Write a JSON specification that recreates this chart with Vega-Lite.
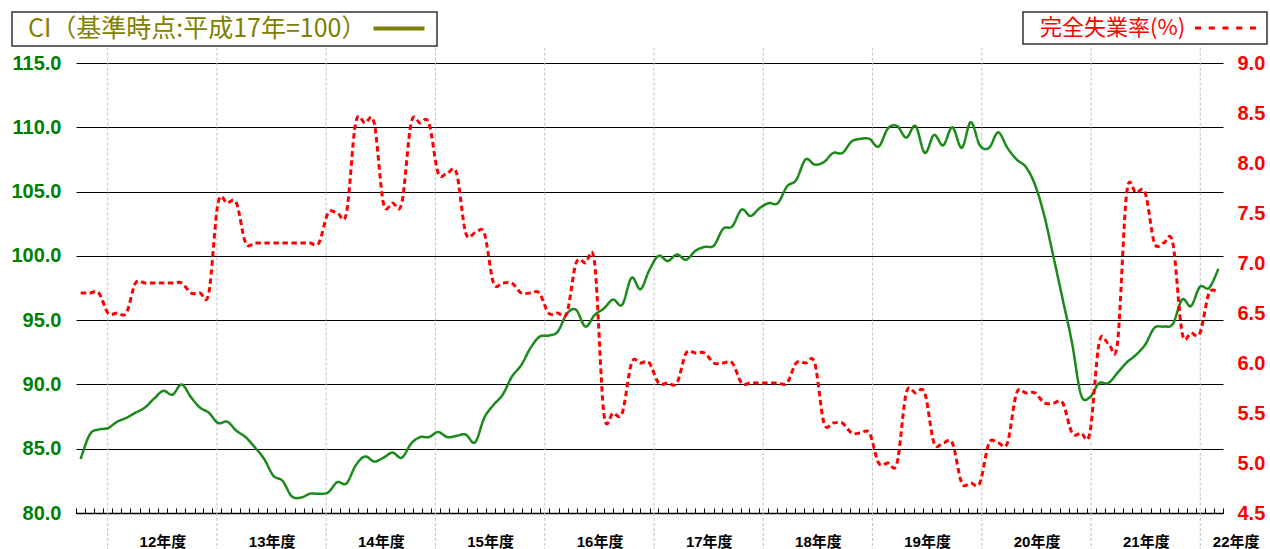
{
  "$schema": "https://vega.github.io/schema/vega-lite/v6.json",
  "width": 1147,
  "height": 450,
  "autosize": {"type": "none"},
  "padding": {"left": 76, "top": 63, "right": 47, "bottom": 36},
  "background": "white",
  "config": {"view": {"stroke": null}, "font": "Liberation Sans"},
  "data": {
    "values": [
      {"month": "2000-01", "ci": 84.2, "u": 6.7},
      {"month": "2000-02", "ci": 86.1, "u": 6.7},
      {"month": "2000-03", "ci": 86.5, "u": 6.7},
      {"month": "2000-04", "ci": 86.6, "u": 6.5},
      {"month": "2000-05", "ci": 87.1, "u": 6.5},
      {"month": "2000-06", "ci": 87.4, "u": 6.5},
      {"month": "2000-07", "ci": 87.8, "u": 6.8},
      {"month": "2000-08", "ci": 88.2, "u": 6.8},
      {"month": "2000-09", "ci": 88.9, "u": 6.8},
      {"month": "2000-10", "ci": 89.5, "u": 6.8},
      {"month": "2000-11", "ci": 89.2, "u": 6.8},
      {"month": "2000-12", "ci": 90.0, "u": 6.8},
      {"month": "2001-01", "ci": 89.0, "u": 6.7},
      {"month": "2001-02", "ci": 88.2, "u": 6.7},
      {"month": "2001-03", "ci": 87.8, "u": 6.7},
      {"month": "2001-04", "ci": 87.0, "u": 7.6},
      {"month": "2001-05", "ci": 87.1, "u": 7.6},
      {"month": "2001-06", "ci": 86.4, "u": 7.6},
      {"month": "2001-07", "ci": 85.9, "u": 7.2},
      {"month": "2001-08", "ci": 85.1, "u": 7.2},
      {"month": "2001-09", "ci": 84.2, "u": 7.2},
      {"month": "2001-10", "ci": 82.9, "u": 7.2},
      {"month": "2001-11", "ci": 82.5, "u": 7.2},
      {"month": "2001-12", "ci": 81.3, "u": 7.2},
      {"month": "2002-01", "ci": 81.2, "u": 7.2},
      {"month": "2002-02", "ci": 81.5, "u": 7.2},
      {"month": "2002-03", "ci": 81.5, "u": 7.2},
      {"month": "2002-04", "ci": 81.6, "u": 7.5},
      {"month": "2002-05", "ci": 82.4, "u": 7.5},
      {"month": "2002-06", "ci": 82.3, "u": 7.5},
      {"month": "2002-07", "ci": 83.7, "u": 8.4},
      {"month": "2002-08", "ci": 84.4, "u": 8.4},
      {"month": "2002-09", "ci": 84.0, "u": 8.4},
      {"month": "2002-10", "ci": 84.3, "u": 7.6},
      {"month": "2002-11", "ci": 84.7, "u": 7.6},
      {"month": "2002-12", "ci": 84.3, "u": 7.6},
      {"month": "2003-01", "ci": 85.4, "u": 8.4},
      {"month": "2003-02", "ci": 85.9, "u": 8.4},
      {"month": "2003-03", "ci": 85.9, "u": 8.4},
      {"month": "2003-04", "ci": 86.3, "u": 7.9},
      {"month": "2003-05", "ci": 85.9, "u": 7.9},
      {"month": "2003-06", "ci": 86.0, "u": 7.9},
      {"month": "2003-07", "ci": 86.1, "u": 7.3},
      {"month": "2003-08", "ci": 85.5, "u": 7.3},
      {"month": "2003-09", "ci": 87.4, "u": 7.3},
      {"month": "2003-10", "ci": 88.4, "u": 6.8},
      {"month": "2003-11", "ci": 89.2, "u": 6.8},
      {"month": "2003-12", "ci": 90.6, "u": 6.8},
      {"month": "2004-01", "ci": 91.5, "u": 6.7},
      {"month": "2004-02", "ci": 92.8, "u": 6.7},
      {"month": "2004-03", "ci": 93.7, "u": 6.7},
      {"month": "2004-04", "ci": 93.8, "u": 6.5},
      {"month": "2004-05", "ci": 94.1, "u": 6.5},
      {"month": "2004-06", "ci": 95.5, "u": 6.5},
      {"month": "2004-07", "ci": 95.8, "u": 7.0},
      {"month": "2004-08", "ci": 94.5, "u": 7.0},
      {"month": "2004-09", "ci": 95.4, "u": 7.0},
      {"month": "2004-10", "ci": 95.9, "u": 5.5},
      {"month": "2004-11", "ci": 96.6, "u": 5.5},
      {"month": "2004-12", "ci": 96.2, "u": 5.5},
      {"month": "2005-01", "ci": 98.3, "u": 6.0},
      {"month": "2005-02", "ci": 97.4, "u": 6.0},
      {"month": "2005-03", "ci": 98.9, "u": 6.0},
      {"month": "2005-04", "ci": 100.0, "u": 5.8},
      {"month": "2005-05", "ci": 99.6, "u": 5.8},
      {"month": "2005-06", "ci": 100.1, "u": 5.8},
      {"month": "2005-07", "ci": 99.7, "u": 6.1},
      {"month": "2005-08", "ci": 100.4, "u": 6.1},
      {"month": "2005-09", "ci": 100.7, "u": 6.1},
      {"month": "2005-10", "ci": 100.8, "u": 6.0},
      {"month": "2005-11", "ci": 102.1, "u": 6.0},
      {"month": "2005-12", "ci": 102.3, "u": 6.0},
      {"month": "2006-01", "ci": 103.6, "u": 5.8},
      {"month": "2006-02", "ci": 103.1, "u": 5.8},
      {"month": "2006-03", "ci": 103.7, "u": 5.8},
      {"month": "2006-04", "ci": 104.1, "u": 5.8},
      {"month": "2006-05", "ci": 104.1, "u": 5.8},
      {"month": "2006-06", "ci": 105.4, "u": 5.8},
      {"month": "2006-07", "ci": 105.9, "u": 6.0},
      {"month": "2006-08", "ci": 107.5, "u": 6.0},
      {"month": "2006-09", "ci": 107.1, "u": 6.0},
      {"month": "2006-10", "ci": 107.3, "u": 5.4},
      {"month": "2006-11", "ci": 108.0, "u": 5.4},
      {"month": "2006-12", "ci": 108.0, "u": 5.4},
      {"month": "2007-01", "ci": 108.9, "u": 5.3},
      {"month": "2007-02", "ci": 109.1, "u": 5.3},
      {"month": "2007-03", "ci": 109.1, "u": 5.3},
      {"month": "2007-04", "ci": 108.5, "u": 5.0},
      {"month": "2007-05", "ci": 109.9, "u": 5.0},
      {"month": "2007-06", "ci": 110.1, "u": 5.0},
      {"month": "2007-07", "ci": 109.2, "u": 5.7},
      {"month": "2007-08", "ci": 110.1, "u": 5.7},
      {"month": "2007-09", "ci": 108.0, "u": 5.7},
      {"month": "2007-10", "ci": 109.4, "u": 5.2},
      {"month": "2007-11", "ci": 108.6, "u": 5.2},
      {"month": "2007-12", "ci": 110.0, "u": 5.2},
      {"month": "2008-01", "ci": 108.4, "u": 4.8},
      {"month": "2008-02", "ci": 110.4, "u": 4.8},
      {"month": "2008-03", "ci": 108.6, "u": 4.8},
      {"month": "2008-04", "ci": 108.4, "u": 5.2},
      {"month": "2008-05", "ci": 109.6, "u": 5.2},
      {"month": "2008-06", "ci": 108.4, "u": 5.2},
      {"month": "2008-07", "ci": 107.5, "u": 5.7},
      {"month": "2008-08", "ci": 106.9, "u": 5.7},
      {"month": "2008-09", "ci": 105.5, "u": 5.7},
      {"month": "2008-10", "ci": 103.1, "u": 5.6},
      {"month": "2008-11", "ci": 99.9, "u": 5.6},
      {"month": "2008-12", "ci": 96.6, "u": 5.6},
      {"month": "2009-01", "ci": 93.2, "u": 5.3},
      {"month": "2009-02", "ci": 89.2, "u": 5.3},
      {"month": "2009-03", "ci": 89.0, "u": 5.3},
      {"month": "2009-04", "ci": 90.1, "u": 6.2},
      {"month": "2009-05", "ci": 90.1, "u": 6.2},
      {"month": "2009-06", "ci": 90.9, "u": 6.2},
      {"month": "2009-07", "ci": 91.7, "u": 7.7},
      {"month": "2009-08", "ci": 92.3, "u": 7.7},
      {"month": "2009-09", "ci": 93.1, "u": 7.7},
      {"month": "2009-10", "ci": 94.4, "u": 7.2},
      {"month": "2009-11", "ci": 94.5, "u": 7.2},
      {"month": "2009-12", "ci": 94.7, "u": 7.2},
      {"month": "2010-01", "ci": 96.6, "u": 6.3},
      {"month": "2010-02", "ci": 96.1, "u": 6.3},
      {"month": "2010-03", "ci": 97.6, "u": 6.3},
      {"month": "2010-04", "ci": 97.5, "u": 6.7},
      {"month": "2010-05", "ci": 99.0, "u": 6.7}
    ]
  },
  "layer": [
    {
      "transform": [{"filter": "utcmonth(datum.month) === 3"}],
      "layer": [
        {
          "mark": {"type": "rule", "color": "#c0c0c0", "strokeDash": [3, 2], "strokeWidth": 1},
          "encoding": {
            "x": {
              "field": "month", "type": "temporal", "timeUnit": "utcyearmonth", "bandPosition": 0.5,
              "scale": {"type": "utc", "domain": [{"year": 2000, "month": 1, "date": 1, "utc": true}, {"year": 2010, "month": 7, "date": 1, "utc": true}]},
              "axis": {
                "orient": "bottom", "title": null, "labels": false, "grid": false,
                "domain": true, "domainColor": "#000000", "domainWidth": 1.5,
                "ticks": true, "tickSize": -5, "tickColor": "#000000", "tickWidth": 1,
                "tickCount": {"interval": "month", "step": 1}
              }
            },
            "y": {"datum": 116.2, "type": "quantitative", "scale": {"domain": [80, 115], "nice": false, "zero": false}, "axis": null},
            "y2": {"datum": 80}
          }
        },
        {
          "mark": {"type": "rule", "color": "#c0c0c0", "strokeDash": [3, 2], "strokeWidth": 1},
          "encoding": {
            "x": {
              "field": "month", "type": "temporal", "timeUnit": "utcyearmonth", "bandPosition": 0.5,
              "axis": {
                "orient": "bottom", "title": null, "grid": false, "domain": false, "ticks": false, "tickSize": 0,
                "values": [
                  {"year": 2000, "month": 10, "date": 16, "utc": true},
                  {"year": 2001, "month": 10, "date": 16, "utc": true},
                  {"year": 2002, "month": 10, "date": 16, "utc": true},
                  {"year": 2003, "month": 10, "date": 16, "utc": true},
                  {"year": 2004, "month": 10, "date": 16, "utc": true},
                  {"year": 2005, "month": 10, "date": 16, "utc": true},
                  {"year": 2006, "month": 10, "date": 16, "utc": true},
                  {"year": 2007, "month": 10, "date": 16, "utc": true},
                  {"year": 2008, "month": 10, "date": 16, "utc": true},
                  {"year": 2009, "month": 10, "date": 16, "utc": true},
                  {"year": 2010, "month": 6, "date": 30, "utc": true}
                ],
                "labelExpr": "(utcyear(datum.value) - 1988) + '年度'",
                "labelFont": "Liberation Sans, Noto Sans CJK JP",
                "labelFontSize": 15, "labelFontWeight": "bold", "labelColor": "#000000",
                "labelPadding": 21, "labelOverlap": false, "labelFlush": false, "labelBound": false,
                "labelOffset": {"condition": {"test": "datum.value > 1270000000000", "value": 13}, "value": 0}
              }
            },
            "y": {"datum": 80, "type": "quantitative", "axis": null},
            "y2": {"datum": 77.2}
          }
        }
      ],
      "resolve": {"axis": {"x": "independent"}}
    },
    {
      "mark": {"type": "line", "interpolate": "cardinal", "strokeWidth": 2.5, "color": "#1a8a1a"},
      "encoding": {
        "x": {
          "field": "month", "type": "temporal", "timeUnit": "utcyearmonth", "bandPosition": 0.5,
          "scale": {"type": "utc", "domain": [{"year": 2000, "month": 1, "date": 1, "utc": true}, {"year": 2010, "month": 6, "date": 1, "utc": true}]},
          "axis": null
        },
        "y": {
          "field": "ci", "type": "quantitative",
          "scale": {"domain": [80, 115], "nice": false, "zero": false},
          "axis": {
            "orient": "left", "title": null, "values": [80, 85, 90, 95, 100, 105, 110, 115], "format": ".1f",
            "labelFont": "Liberation Sans", "labelFontSize": 20, "labelFontWeight": "bold", "labelColor": "#008000",
            "ticks": false, "tickSize": 0, "domain": false, "labelPadding": 15,
            "grid": true, "gridColor": "#000000", "gridWidth": 1
          }
        },
        "strokeDash": {
          "datum": "CI（基準時点:平成17年=100）",
          "scale": {"range": [[1, 0]]},
          "legend": {
            "orient": "none", "legendX": -64, "legendY": -51, "title": null,
            "padding": 4, "fillColor": "#ffffff", "strokeColor": "#333333",
            "labelFont": "Noto Sans CJK JP", "labelFontSize": 25, "labelColor": "#808000", "labelLimit": 800,
            "symbolType": "M-5.1,0H5.1", "symbolSize": 100, "symbolStrokeWidth": 4, "symbolStrokeColor": "#808000",
            "encode": {
              "labels": {"update": {"x": {"value": 12}}},
              "symbols": {"update": {"x": {"value": 383}, "stroke": {"value": "#808000"}, "strokeWidth": {"value": 4}, "strokeDash": {"value": [1, 0]}, "fill": {"value": "transparent"}}},
              "legend": {"update": {"strokeWidth": {"value": 1.5}}}
            }
          }
        }
      }
    },
    {
      "mark": {"type": "line", "interpolate": "cardinal", "strokeWidth": 3, "strokeDash": [5.5, 3.5]},
      "encoding": {
        "x": {
          "field": "month", "type": "temporal", "timeUnit": "utcyearmonth", "bandPosition": 0.5,
          "scale": {"type": "utc", "domain": [{"year": 2000, "month": 1, "date": 1, "utc": true}, {"year": 2010, "month": 6, "date": 1, "utc": true}]},
          "axis": null
        },
        "y": {
          "field": "u", "type": "quantitative",
          "scale": {"domain": [4.5, 9.0], "nice": false, "zero": false},
          "axis": {
            "orient": "right", "title": null, "values": [4.5, 5.0, 5.5, 6.0, 6.5, 7.0, 7.5, 8.0, 8.5, 9.0], "format": ".1f",
            "labelFont": "Liberation Sans", "labelFontSize": 20, "labelFontWeight": "bold", "labelColor": "#ff0000",
            "ticks": false, "tickSize": 0, "domain": false, "grid": false, "labelPadding": 14
          }
        },
        "color": {
          "datum": "完全失業率(%)",
          "scale": {"range": ["#ff0000"]},
          "legend": {
            "orient": "none", "legendX": 947, "legendY": -51, "title": null,
            "padding": 5, "fillColor": "#ffffff", "strokeColor": "#333333",
            "labelFont": "Noto Sans CJK JP", "labelFontSize": 22, "labelColor": "#ff0000", "labelLimit": 800,
            "symbolType": "M-6.1,0H6.1", "symbolSize": 100, "symbolStrokeWidth": 3, "symbolDash": [6, 7.75],
            "encode": {
              "labels": {"update": {"x": {"value": 12}}},
              "symbols": {"update": {"x": {"value": 197.5}, "stroke": {"value": "#ff0000"}, "strokeWidth": {"value": 3}, "strokeDash": {"value": [6, 7.75]}, "fill": {"value": "transparent"}}},
              "legend": {"update": {"strokeWidth": {"value": 1.5}}}
            }
          }
        }
      }
    }
  ],
  "resolve": {"scale": {"x": "independent", "y": "independent", "color": "independent", "strokeDash": "independent"}}
}
